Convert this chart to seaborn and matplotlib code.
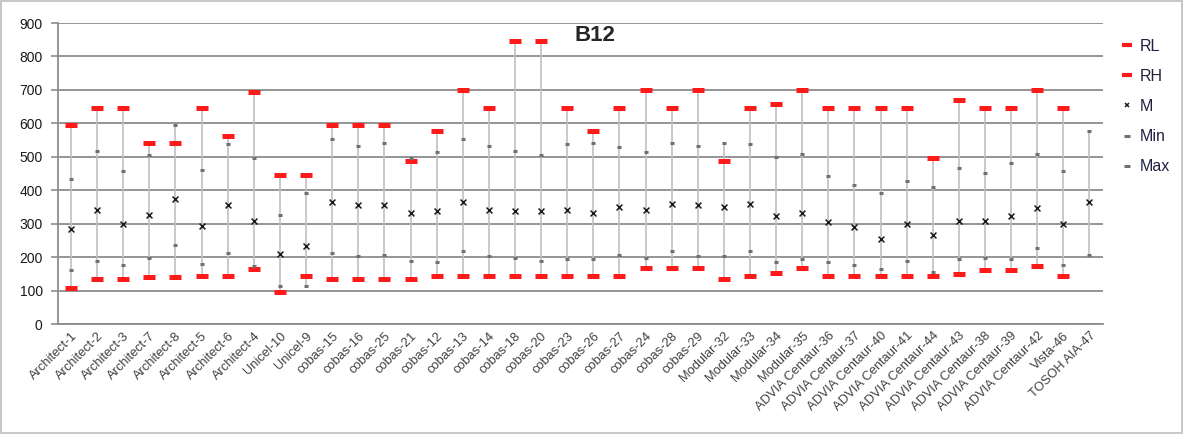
import numpy as np
import pandas as pd
import matplotlib
matplotlib.use("Agg")
import matplotlib.pyplot as plt
from matplotlib.lines import Line2D
import seaborn as sns

# categories and series
labels = ["Architect-1", "Architect-2", "Architect-3", "Architect-7", "Architect-8",
          "Architect-5", "Architect-6", "Architect-4", "Unicel-10", "Unicel-9",
          "cobas-15", "cobas-16", "cobas-25", "cobas-21", "cobas-12", "cobas-13",
          "cobas-14", "cobas-18", "cobas-20", "cobas-23", "cobas-26", "cobas-27",
          "cobas-24", "cobas-28", "cobas-29", "Modular-32", "Modular-33",
          "Modular-34", "Modular-35", "ADVIA Centaur-36", "ADVIA Centaur-37",
          "ADVIA Centaur-40", "ADVIA Centaur-41", "ADVIA Centaur-44",
          "ADVIA Centaur-43", "ADVIA Centaur-38", "ADVIA Centaur-39",
          "ADVIA Centaur-42", "Vista-46", "TOSOH AIA-47"]

RL = [107, 135, 135, 140, 140, 145, 145, 165, 95, 145,
      135, 135, 135, 135, 145, 145, 145, 145, 145, 145,
      145, 145, 168, 168, 168, 135, 145, 154, 168, 145,
      145, 145, 145, 145, 150, 163, 163, 173, 145, np.nan]
RH = [595, 645, 645, 540, 540, 645, 562, 695, 447, 447,
      595, 595, 595, 487, 577, 700, 645, 845, 845, 645,
      577, 645, 700, 645, 700, 487, 645, 657, 700, 645,
      645, 645, 645, 497, 670, 645, 645, 700, 645, np.nan]
M = [285, 342, 300, 326, 374, 293, 355, 309, 210, 234,
     365, 355, 355, 333, 338, 365, 342, 338, 338, 342,
     333, 351, 342, 360, 355, 351, 360, 323, 333, 304,
     290, 256, 300, 266, 309, 309, 323, 346, 300, 365]
Min = [162, 190, 176, 199, 236, 180, 213, 174, 115, 115,
       213, 204, 207, 190, 185, 218, 204, 199, 190, 195,
       195, 207, 199, 218, 204, 204, 218, 185, 196, 185,
       176, 166, 190, 156, 195, 199, 195, 228, 176, 208]
Max = [435, 519, 457, 506, 594, 462, 537, 496, 325, 391,
       552, 533, 542, 497, 514, 552, 533, 519, 506, 537,
       542, 528, 514, 542, 533, 542, 537, 499, 509, 443,
       415, 391, 429, 409, 467, 453, 481, 509, 457, 576]

df = pd.DataFrame({"lab": labels, "RL": RL, "RH": RH, "M": M, "Min": Min, "Max": Max})
df["lo"] = df[["RL", "RH", "M", "Min", "Max"]].min(axis=1)
df["hi"] = df[["RL", "RH", "M", "Min", "Max"]].max(axis=1)

sns.set_style("white")
plt.rcParams["font.family"] = ["Liberation Sans", "DejaVu Sans"]

fig = plt.figure(figsize=(11.83, 4.34), dpi=100)
fig.patch.set_edgecolor("#c8c8c8")
fig.patch.set_linewidth(1.5)
ax = fig.add_axes([0.049, 0.253, 0.883, 0.694])

red = "#ff1a1a"
gray = "#707070"

# high-low lines
ax.vlines(df.index, df["lo"], df["hi"], color="#c0c0c0", linewidth=1.2, zorder=1)

sns.scatterplot(data=df, x="lab", y="RL", marker="_", s=70, color=red,
                linewidth=3.6, ax=ax, zorder=3, legend=False)
sns.scatterplot(data=df, x="lab", y="RH", marker="_", s=70, color=red,
                linewidth=3.6, ax=ax, zorder=3, legend=False)
sns.scatterplot(data=df, x="lab", y="M", marker="x", s=18, color="#1a1a1a",
                linewidth=1.1, ax=ax, zorder=4, legend=False)
sns.scatterplot(data=df, x="lab", y="Min", marker="_", s=12, color=gray,
                linewidth=2.2, ax=ax, zorder=3, legend=False)
sns.scatterplot(data=df, x="lab", y="Max", marker="_", s=12, color=gray,
                linewidth=2.2, ax=ax, zorder=3, legend=False)

ax.set_xlim(-0.5, len(labels) - 0.5)
ax.set_ylim(0, 900)
ax.set_yticks(range(0, 901, 100))
ax.yaxis.grid(True, color="#8c8c8c", linewidth=1.3)
ax.set_axisbelow(True)
for s in ["top", "right"]:
    ax.spines[s].set_visible(False)
for s in ["left", "bottom"]:
    ax.spines[s].set_color("#8c8c8c")
    ax.spines[s].set_linewidth(1.3)
ax.set_xlabel("")
ax.set_ylabel("")

ax.set_xticks(range(len(labels)))
ax.set_xticklabels(labels, rotation=45, ha="right", rotation_mode="anchor",
                   fontsize=9.3, color="#404040")
ax.tick_params(axis="x", length=0, pad=4)
# tick marks between categories
ax.set_xticks(np.arange(-0.5, len(labels), 1), minor=True)
ax.tick_params(axis="x", which="minor", length=5, color="#8c8c8c", width=1.2)
ax.tick_params(axis="y", length=5, color="#8c8c8c", width=1.2, labelsize=10,
               labelcolor="#1a1a1a", left=True, pad=6)

ax.text(0.514, 0.96, "B12", transform=ax.transAxes, ha="center", va="center",
        fontsize=16, fontweight="bold")

handles = [
    Line2D([], [], ls="", marker="_", ms=7, mew=3, color=red),
    Line2D([], [], ls="", marker="_", ms=7, mew=3, color=red),
    Line2D([], [], ls="", marker="x", ms=3.5, mew=1.1, color="#1a1a1a"),
    Line2D([], [], ls="", marker="_", ms=4, mew=2.2, color=gray),
    Line2D([], [], ls="", marker="_", ms=4, mew=2.2, color=gray),
]
fig.legend(handles, ["RL", "RH", "M", "Min", "Max"], loc="upper left",
           bbox_to_anchor=(0.947, 0.911), frameon=False, fontsize=11.5,
           labelspacing=0.95, handlelength=0.8, handletextpad=0.4,
           labelcolor="#202040", borderaxespad=0, borderpad=0)

plt.savefig("out.png", dpi=100)
